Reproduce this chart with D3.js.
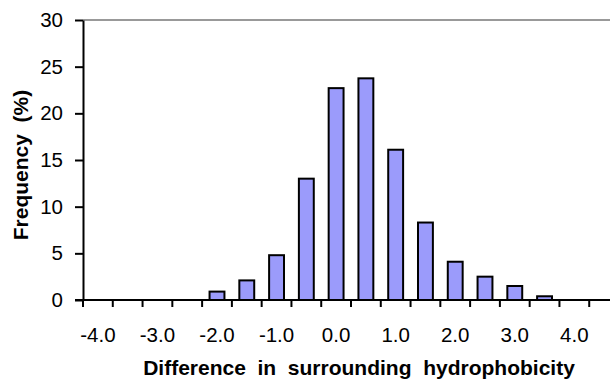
<!DOCTYPE html>
<html>
<head>
<meta charset="utf-8">
<script src="https://cdn.jsdelivr.net/npm/d3@7"></script>
<style>
  body { margin: 0; background: #fff; }
  svg { display: block; font-family: "Liberation Sans", Arial, sans-serif; }
</style>
</head>
<body>
<div class="canvas"></div>
<script>
// data
const bins = ["-4.0", "-3.5", "-3.0", "-2.5", "-2.0", "-1.5", "-1.0", "-0.5", "0.0",
              "0.5", "1.0", "1.5", "2.0", "2.5", "3.0", "3.5", "4.0", "4.5"];
const freq = [0, 0, 0, 0, 0.9, 2.1, 4.8, 13.0, 22.7, 23.75, 16.1, 8.3, 4.1, 2.5, 1.5, 0.4, 0, 0];
const xLabels = ["-4.0", "-3.0", "-2.0", "-1.0", "0.0", "1.0", "2.0", "3.0", "4.0"];
const yTicks = [0, 5, 10, 15, 20, 25, 30];

const dims = { width: 610, height: 379 };
const margin = { top: 20, left: 83, bottom: 79, right: -9 };

const svg = d3
    .select(".canvas")
    .append("svg")
    .attr("width", dims.width)
    .attr("height", dims.height);

const x = d3
    .scaleBand()
    .domain(bins)
    .range([margin.left, dims.width - margin.right])
    .paddingInner(0.5)
    .paddingOuter(0.25);

// ticks sit between categories, so use a plain band without padding for them
const xEdge = d3
    .scaleBand()
    .domain(bins)
    .range([margin.left, dims.width - margin.right]);

const y = d3
    .scaleLinear()
    .domain([0, 30])
    .range([dims.height - margin.bottom, margin.top]);

// top grey line
svg.append("line")
    .attr("x1", margin.left)
    .attr("x2", dims.width)
    .attr("y1", y(30))
    .attr("y2", y(30))
    .attr("stroke", "#999")
    .attr("stroke-width", 2);

// bars
svg.append("g")
    .selectAll("rect")
    .data(freq.map((v, i) => ({ bin: bins[i], v })).filter((d) => d.v > 0))
    .enter()
    .append("rect")
    .attr("x", (d) => x(d.bin))
    .attr("width", x.bandwidth())
    .attr("y", (d) => y(d.v))
    .attr("height", (d) => y(0) - y(d.v))
    .attr("fill", "#9b9bfb")
    .attr("stroke", "#000")
    .attr("stroke-width", 2);

// y axis
const yAxis = svg.append("g")
    .attr("transform", `translate(${margin.left},0)`)
    .call(d3.axisLeft(y).tickValues(yTicks).tickSize(8).tickPadding(12).tickSizeOuter(0));

yAxis.select(".domain").attr("stroke-width", 2);
yAxis.selectAll(".tick line").attr("stroke-width", 2);
yAxis.selectAll("text")
    .attr("font-size", 20.5)
    .attr("fill", "#000")
    .attr("font-family", "Liberation Sans, Arial, sans-serif");

// x axis: tick marks at the category edges
const xAxis = svg.append("g").attr("transform", `translate(0,${y(0)})`);

xAxis.append("line")
    .attr("x1", margin.left - 8)
    .attr("x2", dims.width)
    .attr("stroke", "#000")
    .attr("stroke-width", 2);

xAxis.selectAll(".xtick")
    .data(bins)
    .enter()
    .append("line")
    .attr("class", "xtick")
    .attr("x1", (d) => xEdge(d))
    .attr("x2", (d) => xEdge(d))
    .attr("y1", 0)
    .attr("y2", 7)
    .attr("stroke", "#000")
    .attr("stroke-width", 2);

xAxis.selectAll(".xlabel")
    .data(xLabels)
    .enter()
    .append("text")
    .attr("class", "xlabel")
    .attr("x", (d) => xEdge(d) + xEdge.bandwidth() / 2)
    .attr("y", 42)
    .attr("text-anchor", "middle")
    .attr("font-size", 20.5)
    .text((d) => d);

// axis titles
svg.append("text")
    .attr("x", 359)
    .attr("y", 375)
    .attr("text-anchor", "middle")
    .attr("font-size", 21)
    .attr("font-weight", "bold")
    .style("white-space", "pre")
    .text("Difference  in  surrounding  hydrophobicity");

svg.append("text")
    .attr("transform", "translate(28,165) rotate(-90)")
    .attr("text-anchor", "middle")
    .attr("font-size", 21)
    .attr("font-weight", "bold")
    .style("white-space", "pre")
    .text("Frequency  (%)");
</script>
</body>
</html>
